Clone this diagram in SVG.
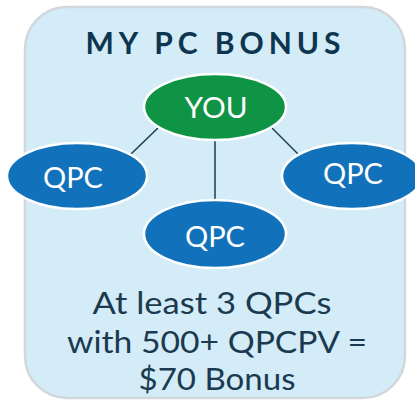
<svg xmlns="http://www.w3.org/2000/svg" width="415" height="401" viewBox="0 0 415 401">
<style>
.panel{fill:#d3ecf7;stroke:#d2d7db;stroke-width:2.5}
.title{font-family:Lato,"Liberation Sans",sans-serif;font-weight:bold;font-size:30px;fill:#0e3550;text-anchor:middle}
.you{fill:#0f9445;stroke:#fff;stroke-width:2.5}
.qpc{fill:#1172bb;stroke:#fff;stroke-width:2.5}
.lbl{font-family:Lato,"Liberation Sans",sans-serif;font-size:29px;fill:#fff;text-anchor:middle}
.conn{stroke:#1e3a4f;stroke-width:1.5;fill:none}
.body{font-family:Lato,"Liberation Sans",sans-serif;font-size:30px;fill:#1b3a50;text-anchor:middle}
</style>
<rect class="panel" x="25" y="7" width="380" height="391" rx="42"/>
<text class="title" x="213" y="54" textLength="255" lengthAdjust="spacing">MY PC BONUS</text>
<g id="connectors">
<line class="conn" x1="158" y1="128" x2="131" y2="154"/>
<line class="conn" x1="272" y1="128" x2="298" y2="154"/>
<line class="conn" x1="215" y1="140" x2="215" y2="201"/>
</g>
<g id="you">
<ellipse class="you" cx="215" cy="107" rx="71" ry="33"/>
<text class="lbl" x="216" y="118" textLength="63" lengthAdjust="spacingAndGlyphs">YOU</text>
</g>
<g id="qpc-left">
<ellipse class="qpc" cx="77" cy="176" rx="70" ry="33"/>
<text class="lbl" x="73" y="188" textLength="60" lengthAdjust="spacingAndGlyphs">QPC</text>
</g>
<g id="qpc-right">
<ellipse class="qpc" cx="352" cy="176" rx="70" ry="33"/>
<text class="lbl" x="353" y="184" textLength="60" lengthAdjust="spacingAndGlyphs">QPC</text>
</g>
<g id="qpc-bottom">
<ellipse class="qpc" cx="215" cy="234" rx="71" ry="34"/>
<text class="lbl" x="215" y="247" textLength="60" lengthAdjust="spacingAndGlyphs">QPC</text>
</g>
<text class="body" x="212" y="314" textLength="239" lengthAdjust="spacingAndGlyphs">At least 3 QPCs</text>
<text class="body" x="217" y="353" textLength="300" lengthAdjust="spacingAndGlyphs">with 500+ QPCPV =</text>
<text class="body" x="217" y="390" textLength="157" lengthAdjust="spacingAndGlyphs">$70 Bonus</text>
</svg>
